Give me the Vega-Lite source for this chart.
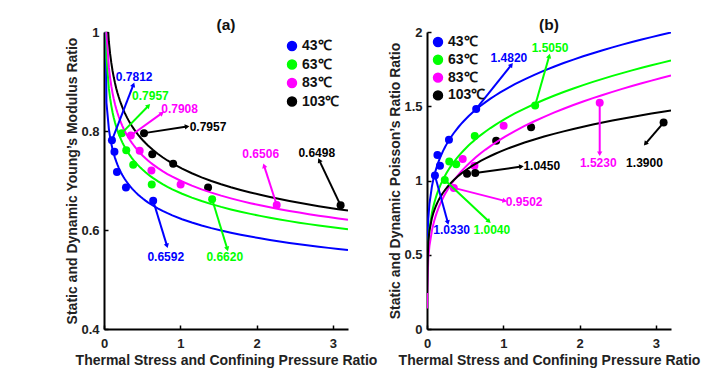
{
  "$schema": "https://vega.github.io/schema/vega-lite/v6.json",
  "background": "white",
  "padding": {"left": 65, "top": 17, "right": 5, "bottom": 5},
  "bounds": "flush",
  "spacing": 79,
  "datasets": {
    "pts": [
      {"panel": "a", "series": "43℃", "x": 0.104, "y": 0.7812},
      {"panel": "a", "series": "43℃", "x": 0.137, "y": 0.758},
      {"panel": "a", "series": "43℃", "x": 0.17, "y": 0.717},
      {"panel": "a", "series": "43℃", "x": 0.288, "y": 0.686},
      {"panel": "a", "series": "43℃", "x": 0.645, "y": 0.6592},
      {"panel": "a", "series": "63℃", "x": 0.233, "y": 0.7957},
      {"panel": "a", "series": "63℃", "x": 0.292, "y": 0.761},
      {"panel": "a", "series": "63℃", "x": 0.383, "y": 0.732},
      {"panel": "a", "series": "63℃", "x": 0.626, "y": 0.692},
      {"panel": "a", "series": "63℃", "x": 1.418, "y": 0.662},
      {"panel": "a", "series": "83℃", "x": 0.352, "y": 0.7908},
      {"panel": "a", "series": "83℃", "x": 0.468, "y": 0.76},
      {"panel": "a", "series": "83℃", "x": 0.622, "y": 0.72},
      {"panel": "a", "series": "83℃", "x": 1.005, "y": 0.692},
      {"panel": "a", "series": "83℃", "x": 2.265, "y": 0.6506},
      {"panel": "a", "series": "103℃", "x": 0.525, "y": 0.7957},
      {"panel": "a", "series": "103℃", "x": 0.633, "y": 0.753},
      {"panel": "a", "series": "103℃", "x": 0.907, "y": 0.734},
      {"panel": "a", "series": "103℃", "x": 1.365, "y": 0.686},
      {"panel": "a", "series": "103℃", "x": 3.103, "y": 0.6498},
      {"panel": "b", "series": "43℃", "x": 0.104, "y": 1.033},
      {"panel": "b", "series": "43℃", "x": 0.137, "y": 1.171},
      {"panel": "b", "series": "43℃", "x": 0.17, "y": 1.1},
      {"panel": "b", "series": "43℃", "x": 0.288, "y": 1.274},
      {"panel": "b", "series": "43℃", "x": 0.645, "y": 1.482},
      {"panel": "b", "series": "63℃", "x": 0.233, "y": 1.004},
      {"panel": "b", "series": "63℃", "x": 0.292, "y": 1.128},
      {"panel": "b", "series": "63℃", "x": 0.383, "y": 1.11},
      {"panel": "b", "series": "63℃", "x": 0.626, "y": 1.3},
      {"panel": "b", "series": "63℃", "x": 1.418, "y": 1.505},
      {"panel": "b", "series": "83℃", "x": 0.352, "y": 0.9502},
      {"panel": "b", "series": "83℃", "x": 0.468, "y": 1.144},
      {"panel": "b", "series": "83℃", "x": 0.622, "y": 1.1},
      {"panel": "b", "series": "83℃", "x": 1.005, "y": 1.368},
      {"panel": "b", "series": "83℃", "x": 2.265, "y": 1.523},
      {"panel": "b", "series": "103℃", "x": 0.525, "y": 1.045},
      {"panel": "b", "series": "103℃", "x": 0.633, "y": 1.05},
      {"panel": "b", "series": "103℃", "x": 0.907, "y": 1.267},
      {"panel": "b", "series": "103℃", "x": 1.365, "y": 1.359},
      {"panel": "b", "series": "103℃", "x": 3.103, "y": 1.39}
    ],
    "ann": [
      {"panel": "a", "series": "43℃", "x0": 0.104, "y0": 0.7812, "x1": 0.386, "y1": 0.8935, "lx": 0.395, "ly": 0.909, "label": "0.7812", "angle": 21},
      {"panel": "a", "series": "63℃", "x0": 0.233, "y0": 0.7957, "x1": 0.584, "y1": 0.851, "lx": 0.609, "ly": 0.87, "label": "0.7957", "angle": 44},
      {"panel": "a", "series": "83℃", "x0": 0.352, "y0": 0.7908, "x1": 0.76, "y1": 0.836, "lx": 0.991, "ly": 0.844, "label": "0.7908", "angle": 54},
      {"panel": "a", "series": "103℃", "x0": 0.525, "y0": 0.7957, "x1": 1.09, "y1": 0.809, "lx": 1.364, "ly": 0.809, "label": "0.7957", "angle": 81},
      {"panel": "a", "series": "83℃", "x0": 2.265, "y0": 0.6506, "x1": 2.099, "y1": 0.73, "lx": 2.055, "ly": 0.754, "label": "0.6506", "angle": -18},
      {"panel": "a", "series": "103℃", "x0": 3.103, "y0": 0.6498, "x1": 2.823, "y1": 0.7406, "lx": 2.79, "ly": 0.7556, "label": "0.6498", "angle": -25},
      {"panel": "a", "series": "43℃", "x0": 0.645, "y0": 0.6592, "x1": 0.826, "y1": 0.568, "lx": 0.81, "ly": 0.546, "label": "0.6592", "angle": 163},
      {"panel": "a", "series": "63℃", "x0": 1.418, "y0": 0.662, "x1": 1.617, "y1": 0.5616, "lx": 1.584, "ly": 0.546, "label": "0.6620", "angle": 163},
      {"panel": "b", "series": "43℃", "x0": 0.645, "y0": 1.482, "x1": 1.107, "y1": 1.7786, "lx": 1.074, "ly": 1.824, "label": "1.4820", "angle": 38},
      {"panel": "b", "series": "63℃", "x0": 1.418, "y0": 1.505, "x1": 1.603, "y1": 1.839, "lx": 1.613, "ly": 1.895, "label": "1.5050", "angle": 16},
      {"panel": "b", "series": "83℃", "x0": 2.265, "y0": 1.523, "x1": 2.265, "y1": 1.18, "lx": 2.246, "ly": 1.117, "label": "1.5230", "angle": 180},
      {"panel": "b", "series": "103℃", "x0": 3.103, "y0": 1.39, "x1": 2.864, "y1": 1.247, "lx": 2.852, "ly": 1.117, "label": "1.3900", "angle": -140},
      {"panel": "b", "series": "103℃", "x0": 0.633, "y0": 1.05, "x1": 1.238, "y1": 1.094, "lx": 1.505, "ly": 1.101, "label": "1.0450", "angle": 82},
      {"panel": "b", "series": "83℃", "x0": 0.352, "y0": 0.9502, "x1": 1.02, "y1": 0.863, "lx": 1.274, "ly": 0.857, "label": "0.9502", "angle": 104},
      {"panel": "b", "series": "43℃", "x0": 0.104, "y0": 1.033, "x1": 0.273, "y1": 0.717, "lx": 0.323, "ly": 0.666, "label": "1.0330", "angle": 165},
      {"panel": "b", "series": "63℃", "x0": 0.233, "y0": 1.004, "x1": 0.813, "y1": 0.724, "lx": 0.85, "ly": 0.666, "label": "1.0040", "angle": 133}
    ]
  },
  "hconcat": [
    {
      "width": 244,
      "height": 297,
      "title": {"text": "(a)"},
      "layer": [
        {
          "data": {"name": "pts"},
          "transform": [{"filter": "datum.panel === 'a'"}],
          "mark": {"type": "circle", "size": 64, "opacity": 1},
          "encoding": {
            "x": {"field": "x", "type": "quantitative", "scale": {"domain": [0, 3.2], "nice": false, "zero": false},
                  "axis": {"values": [0, 1, 2, 3], "format": "~g", "labelPadding": 12, "title": "Thermal Stress and Confining Pressure Ratio", "titleY": 31, "titleBaseline": "middle"}},
            "y": {"field": "y", "type": "quantitative", "scale": {"domain": [0.4, 1], "nice": false, "zero": false},
                  "axis": {"values": [0.4, 0.6, 0.8, 1], "format": "~g", "title": "Static and Dynamic Young’s Modulus Ratio", "titleX": -32, "titleBaseline": "middle"}},
            "color": {"field": "series", "type": "nominal",
                      "scale": {"domain": ["43℃", "63℃", "83℃", "103℃"], "range": ["#0000ff", "#00ff00", "#ff00ff", "#000000"]},
                      "legend": {"orient": "none", "legendX": 181, "legendY": 7, "title": null, "symbolSize": 80, "labelFontSize": 14, "labelFontWeight": "bold", "labelColor": "#111", "rowPadding": 2.5, "labelOffset": 3, "symbolType": "circle"}}
          }
        },
        {
          "data": {"name": "pts"},
          "transform": [
            {"filter": "datum.panel === 'a'"},
            {"regression": "y", "on": "x", "groupby": ["series"], "method": "pow", "extent": [0.0001, 3.2]}
          ],
          "mark": {"type": "line", "clip": true, "strokeWidth": 2},
          "encoding": {
            "x": {"field": "x", "type": "quantitative"},
            "y": {"field": "y", "type": "quantitative"},
            "color": {"field": "series", "type": "nominal", "legend": null}
          }
        },
        {
          "data": {"name": "ann"},
          "transform": [{"filter": "datum.panel === 'a'"}],
          "mark": {"type": "rule", "strokeWidth": 2},
          "encoding": {
            "x": {"field": "x0", "type": "quantitative"},
            "y": {"field": "y0", "type": "quantitative"},
            "x2": {"field": "x1"},
            "y2": {"field": "y1"},
            "color": {"field": "series", "type": "nominal", "legend": null}
          }
        },
        {
          "data": {"name": "ann"},
          "transform": [{"filter": "datum.panel === 'a'"}],
          "mark": {"type": "point", "shape": "triangle-up", "filled": true, "size": 28, "opacity": 1},
          "encoding": {
            "x": {"field": "x1", "type": "quantitative"},
            "y": {"field": "y1", "type": "quantitative"},
            "angle": {"field": "angle", "type": "quantitative", "scale": null},
            "color": {"field": "series", "type": "nominal", "legend": null}
          }
        },
        {
          "data": {"name": "ann"},
          "transform": [{"filter": "datum.panel === 'a'"}],
          "mark": {"type": "text", "fontSize": 12, "fontWeight": "bold", "align": "center", "baseline": "middle"},
          "encoding": {
            "x": {"field": "lx", "type": "quantitative"},
            "y": {"field": "ly", "type": "quantitative"},
            "text": {"field": "label"},
            "color": {"field": "series", "type": "nominal", "legend": null}
          }
        }
      ]
    },
    {
      "width": 244,
      "height": 297,
      "title": {"text": "(b)"},
      "layer": [
        {
          "data": {"name": "pts"},
          "transform": [{"filter": "datum.panel === 'b'"}],
          "mark": {"type": "circle", "size": 64, "opacity": 1},
          "encoding": {
            "x": {"field": "x", "type": "quantitative", "scale": {"domain": [0, 3.2], "nice": false, "zero": false},
                  "axis": {"values": [0, 1, 2, 3], "format": "~g", "labelPadding": 12, "title": "Thermal Stress and Confining Pressure Ratio", "titleY": 31, "titleBaseline": "middle"}},
            "y": {"field": "y", "type": "quantitative", "scale": {"domain": [0, 2], "nice": false, "zero": false},
                  "axis": {"values": [0, 0.5, 1, 1.5, 2], "format": "~g", "title": "Static and Dynamic Poisson’s Ratio Ratio", "titleX": -32, "titleBaseline": "middle"}},
            "color": {"field": "series", "type": "nominal",
                      "scale": {"domain": ["43℃", "63℃", "83℃", "103℃"], "range": ["#0000ff", "#00ff00", "#ff00ff", "#000000"]},
                      "legend": {"orient": "none", "legendX": 4, "legendY": 3, "title": null, "symbolSize": 80, "labelFontSize": 14, "labelFontWeight": "bold", "labelColor": "#111", "rowPadding": 1.8, "labelOffset": 3, "symbolType": "circle"}}
          }
        },
        {
          "data": {"name": "pts"},
          "transform": [
            {"filter": "datum.panel === 'b'"},
            {"regression": "y", "on": "x", "groupby": ["series"], "method": "pow", "extent": [0.0001, 3.2]}
          ],
          "mark": {"type": "line", "clip": true, "strokeWidth": 2},
          "encoding": {
            "x": {"field": "x", "type": "quantitative"},
            "y": {"field": "y", "type": "quantitative"},
            "color": {"field": "series", "type": "nominal", "legend": null}
          }
        },
        {
          "data": {"name": "ann"},
          "transform": [{"filter": "datum.panel === 'b'"}],
          "mark": {"type": "rule", "strokeWidth": 2},
          "encoding": {
            "x": {"field": "x0", "type": "quantitative"},
            "y": {"field": "y0", "type": "quantitative"},
            "x2": {"field": "x1"},
            "y2": {"field": "y1"},
            "color": {"field": "series", "type": "nominal", "legend": null}
          }
        },
        {
          "data": {"name": "ann"},
          "transform": [{"filter": "datum.panel === 'b'"}],
          "mark": {"type": "point", "shape": "triangle-up", "filled": true, "size": 28, "opacity": 1},
          "encoding": {
            "x": {"field": "x1", "type": "quantitative"},
            "y": {"field": "y1", "type": "quantitative"},
            "angle": {"field": "angle", "type": "quantitative", "scale": null},
            "color": {"field": "series", "type": "nominal", "legend": null}
          }
        },
        {
          "data": {"name": "ann"},
          "transform": [{"filter": "datum.panel === 'b'"}],
          "mark": {"type": "text", "fontSize": 12, "fontWeight": "bold", "align": "center", "baseline": "middle"},
          "encoding": {
            "x": {"field": "lx", "type": "quantitative"},
            "y": {"field": "ly", "type": "quantitative"},
            "text": {"field": "label"},
            "color": {"field": "series", "type": "nominal", "legend": null}
          }
        }
      ]
    }
  ],
  "resolve": {"scale": {"color": "independent"}, "legend": {"color": "independent"}},
  "config": {
    "font": "Liberation Sans",
    "view": {"stroke": null},
    "title": {"fontSize": 15.5, "fontWeight": "bold", "color": "#111", "anchor": "middle", "frame": "group", "offset": -7},
    "axis": {
      "grid": false,
      "domainColor": "#000",
      "domainWidth": 2,
      "tickColor": "#000",
      "tickWidth": 1.5,
      "tickSize": -4,
      "labelPadding": 9,
      "labelFontSize": 13,
      "labelFontWeight": "bold",
      "labelColor": "#222",
      "labelFlush": false,
      "titleFontSize": 14,
      "titleFontWeight": "bold",
      "titleColor": "#222"
    }
  }
}
